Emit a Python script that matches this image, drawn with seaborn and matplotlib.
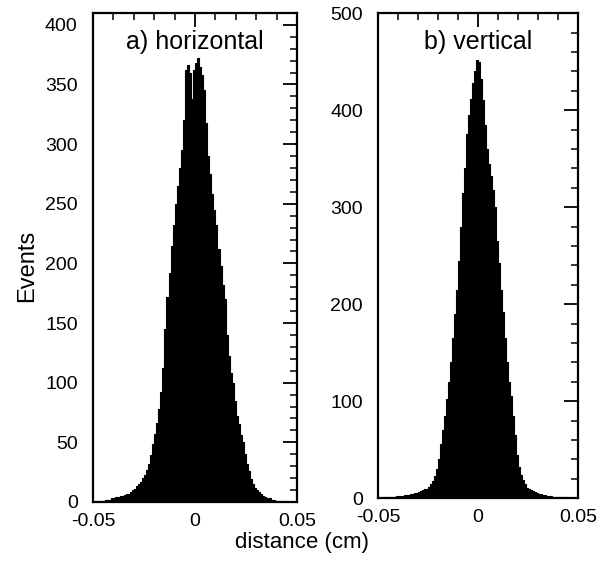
import numpy as np
import pandas as pd
import matplotlib
matplotlib.use("Agg")
import matplotlib.pyplot as plt
from matplotlib.ticker import MultipleLocator, FixedLocator, FixedFormatter
import seaborn as sns

# ---- data (counts per 0.001 cm bin, from -0.05 to 0.05) ----
bin_edges = [round(-0.05 + 0.001 * i, 4) for i in range(101)]

horizontal_counts = [
    0, 0, 1, 1, 1, 1, 2, 2, 2, 3,
    3, 4, 4, 5, 5, 6, 7, 7, 8, 10,
    11, 13, 15, 17, 20, 23, 27, 32, 39, 49,
    57, 66, 78, 92, 112, 145, 172, 192, 215, 232,
    250, 265, 280, 295, 320, 362, 366, 360, 338, 362,
    368, 372, 365, 358, 345, 318, 290, 275, 258, 245,
    232, 212, 198, 182, 170, 140, 122, 108, 100, 85,
    72, 65, 56, 50, 40, 32, 26, 19, 15, 12,
    10, 8, 7, 5, 4, 3, 3, 2, 2, 1,
    1, 1, 1, 0, 0, 1, 0, 0, 0, 0,
]

vertical_counts = [
    0, 0, 0, 1, 0, 1, 1, 1, 1, 2,
    2, 2, 2, 3, 3, 3, 4, 4, 5, 5,
    6, 7, 8, 9, 10, 12, 15, 18, 23, 30,
    40, 56, 70, 85, 102, 120, 140, 165, 190, 215,
    245, 280, 315, 340, 375, 395, 412, 428, 440, 452,
    450, 432, 410, 385, 360, 345, 332, 318, 300, 265,
    242, 215, 192, 165, 140, 120, 105, 85, 65, 45,
    32, 24, 19, 15, 11, 9, 8, 7, 6, 5,
    4, 4, 3, 3, 2, 2, 2, 1, 1, 1,
    1, 1, 0, 1, 0, 0, 0, 0, 0, 0,
]

panel_titles = ["a) horizontal", "b) vertical"]
x_ticks = [-0.05, 0.0, 0.05]
x_ticklabels = ["-0.05", "0", "0.05"]
left_yticks = [0, 50, 100, 150, 200, 250, 300, 350, 400]
right_yticks = [0, 100, 200, 300, 400, 500]

# ---- style ----
sns.set_style("white")
plt.rcParams["font.family"] = ["Liberation Sans", "DejaVu Sans"]

edges = np.array(bin_edges)
centers = (edges[:-1] + edges[1:]) / 2
df = pd.DataFrame({
    "x": centers,
    "h": np.array(horizontal_counts, dtype=float),
    "v": np.array(vertical_counts, dtype=float),
})

fig = plt.figure(figsize=(6.02, 5.72), dpi=100)
ax1 = fig.add_axes([0.1545, 0.1224, 0.339, 0.855])
ax2 = fig.add_axes([0.628, 0.129, 0.332, 0.848])

for ax, col, title, yticks, ymax, yminor in [
    (ax1, "h", panel_titles[0], left_yticks, 410, 10),
    (ax2, "v", panel_titles[1], right_yticks, 500, 20),
]:
    sns.histplot(data=df, x="x", weights=col, bins=bin_edges, ax=ax,
                 element="step", fill=True, color="black", alpha=1.0,
                 linewidth=0.8, edgecolor="black")
    ax.set_xlim(-0.05, 0.05)
    ax.set_ylim(0, ymax)
    ax.xaxis.set_major_locator(FixedLocator(x_ticks))
    ax.xaxis.set_major_formatter(FixedFormatter(x_ticklabels))
    ax.xaxis.set_minor_locator(MultipleLocator(0.01))
    ax.yaxis.set_major_locator(FixedLocator(yticks))
    ax.yaxis.set_minor_locator(MultipleLocator(yminor))
    ax.tick_params(which="both", direction="in", top=True, right=True,
                   labelsize=14, colors="black")
    ax.tick_params(which="major", length=10, width=1.3)
    ax.tick_params(which="minor", length=5, width=1.1)
    ax.tick_params(axis="y", pad=11)
    ax.tick_params(axis="x", pad=8)
    for s in ax.spines.values():
        s.set_linewidth(1.6)
        s.set_color("black")
    ax.set_xlabel("")
    ax.set_ylabel("")
    ax.text(0.5, 0.94, title, transform=ax.transAxes, ha="center",
            va="center", fontsize=18, color="black")

fig.text(0.045, 0.535, "Events", rotation=90, ha="center", va="center",
         fontsize=17, color="black")
fig.text(0.502, 0.052, "distance (cm)", ha="center", va="center",
         fontsize=16, color="black")

fig.savefig("out.png", dpi=100)
